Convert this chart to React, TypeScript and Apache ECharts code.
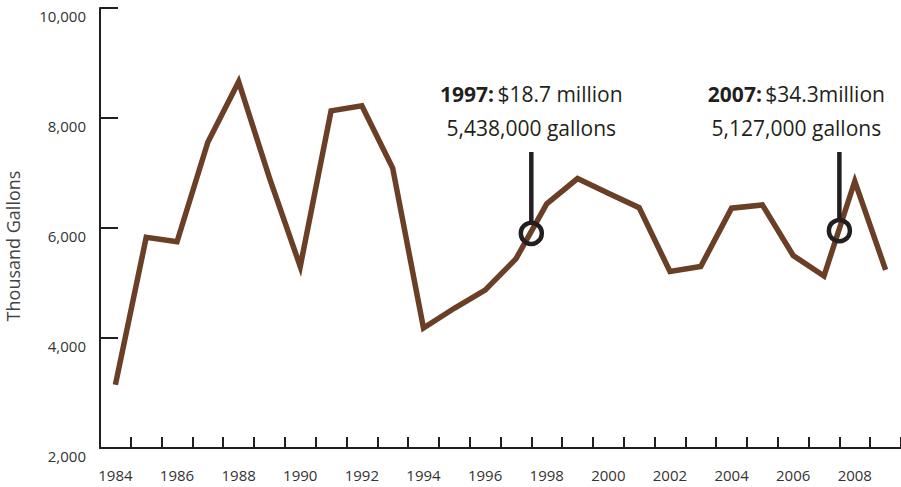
import React, { useEffect, useRef } from "react";
import * as echarts from "echarts";

const years = [
  "1984", "1985", "1986", "1987", "1988", "1989", "1990", "1991", "1992",
  "1993", "1994", "1995", "1996", "1997", "1998", "1999", "2000", "2001",
  "2002", "2003", "2004", "2005", "2006", "2007", "2008", "2009",
];
const gallons = [
  3150, 5830, 5750, 7560, 8660, 6910, 5300, 8130, 8220,
  7090, 4180, 4540, 4870, 5438, 6440, 6900, 6630, 6370,
  5210, 5300, 6360, 6420, 5500, 5127, 6850, 5240,
];
const yTicks = { min: 2000, max: 10000, interval: 2000 };
const axisName = "Thousand Gallons";

const annotationYears = ["1997", "2007"];
const annotationMoney = ["$18.7 million", "$34.3million"];
const annotationGallons = ["5,438,000 gallons", "5,127,000 gallons"];
const annotationTextShift = [0, -43];

const INK = "#231f20";
const BROWN = "#6b3e26";
const FONT = "'Open Sans', 'Noto Sans', sans-serif";

export default function App() {
  const ref = useRef<HTMLDivElement>(null);
  useEffect(() => {
    document.body.style.margin = "0";
    const chart = echarts.init(ref.current!, undefined, { renderer: "svg" });
    const annData = annotationYears.map((y, k) => [years.indexOf(y), k]);
    chart.setOption({
      animation: false,
      grid: { left: 100, right: 0, top: 8, bottom: 39, containLabel: false },
      xAxis: {
        type: "category",
        data: years,
        boundaryGap: true,
        axisLine: { show: true, lineStyle: { color: INK, width: 2 } },
        axisTick: {
          show: true,
          inside: true,
          length: 11,
          interval: 0,
          lineStyle: { color: INK, width: 2 },
        },
        axisLabel: {
          interval: 1,
          margin: 19,
          color: "#333",
          fontSize: 15,
          fontFamily: FONT,
        },
        splitLine: { show: false },
      },
      yAxis: {
        type: "value",
        min: yTicks.min,
        max: yTicks.max,
        interval: yTicks.interval,
        axisLine: { show: true, lineStyle: { color: INK, width: 2 } },
        axisTick: {
          show: true,
          inside: true,
          length: 18,
          lineStyle: { color: INK, width: 2 },
        },
        axisLabel: {
          margin: 14,
          color: "#333",
          fontSize: 15,
          fontFamily: FONT,
          verticalAlign: "top",
          formatter: (v: number) => v.toLocaleString("en-US"),
        },
        splitLine: { show: false },
      },
      graphic: [
        {
          type: "text",
          x: 13,
          y: 246,
          rotation: Math.PI / 2,
          style: {
            text: axisName,
            fill: "#444",
            font: `18px ${FONT}`,
            align: "center",
            verticalAlign: "middle",
          },
        },
      ],
      series: [
        {
          type: "line",
          data: gallons,
          symbol: "none",
          lineStyle: { color: BROWN, width: 5.5, join: "miter" },
          z: 2,
        },
        {
          type: "custom",
          data: annData,
          z: 3,
          renderItem: (params: any, api: any) => {
            const i = api.value(0);
            const k = api.value(1);
            const top = params.coordSys.y;
            const p0 = api.coord([i, gallons[i]]);
            const p1 = api.coord([i + 1, gallons[i + 1]]);
            const cx = (p0[0] + p1[0]) / 2;
            const cy = (p0[1] + p1[1]) / 2 + 2;
            const r = 10.5;
            const tx = cx + annotationTextShift[k];
            return {
              type: "group",
              children: [
                {
                  type: "line",
                  shape: { x1: cx, y1: top + 144, x2: cx, y2: cy - r },
                  style: { stroke: INK, lineWidth: 4.5 },
                },
                {
                  type: "circle",
                  shape: { cx, cy, r },
                  style: { fill: "none", stroke: INK, lineWidth: 4.5 },
                },
                {
                  type: "text",
                  x: tx,
                  y: top + 86,
                  style: {
                    text: `{b|${annotationYears[k]}:} {n|${annotationMoney[k]}}`,
                    align: "center",
                    verticalAlign: "middle",
                    fill: INK,
                    rich: {
                      b: { font: `bold 21px ${FONT}`, fill: INK },
                      n: { font: `21px ${FONT}`, fill: INK },
                    },
                  },
                },
                {
                  type: "text",
                  x: tx,
                  y: top + 120,
                  style: {
                    text: annotationGallons[k],
                    align: "center",
                    verticalAlign: "middle",
                    fill: INK,
                    font: `21px ${FONT}`,
                  },
                },
              ],
            };
          },
        },
      ],
    });
    return () => chart.dispose();
  }, []);
  return (
    <div
      ref={ref}
      style={{ position: "absolute", left: 0, top: 0, width: 901, height: 487 }}
    />
  );
}
